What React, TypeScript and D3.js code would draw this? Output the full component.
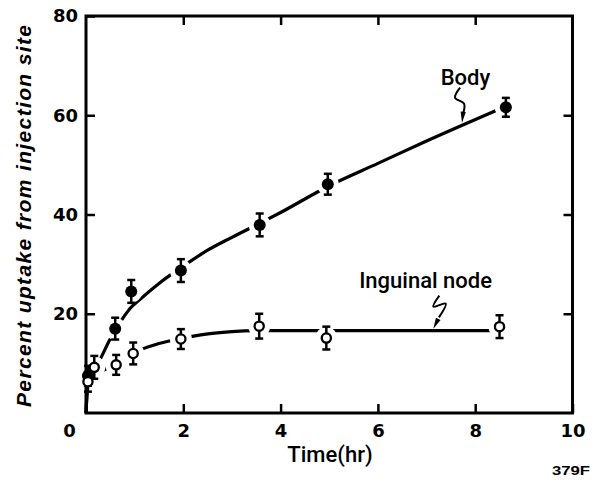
import React, { useEffect, useRef } from 'react';
import * as d3 from 'd3';

// measured points (time in hr, percent uptake)
const bodyTime = [0.04, 0.6, 0.93, 1.95, 3.57, 4.97, 8.63];
const bodyUptake = [7.5, 17.0, 24.5, 28.7, 37.9, 46.1, 61.6];
const bodyErr = [2.0, 2.2, 2.3, 2.3, 2.3, 2.1, 1.9];

const nodeTime = [0.04, 0.17, 0.62, 0.97, 1.95, 3.56, 4.94, 8.5];
const nodeUptake = [6.3, 9.2, 9.7, 12.0, 14.9, 17.5, 15.1, 17.4];
const nodeErr = [2.0, 2.3, 2.0, 2.2, 2.0, 2.5, 2.3, 2.3];

// hand-drawn fitted curves
const bodyFitTime = [0, 0.04, 0.15, 0.3, 0.48, 0.6, 0.75, 0.9, 1.1, 1.5, 2, 2.5, 3, 3.57, 4, 5, 6, 7, 8.42];
const bodyFit = [0, 6.5, 8.5, 11, 14.6, 16.8, 19, 21, 22.8, 26.1, 29.6, 32.8, 35.4, 38.2, 40.4, 45.8, 50.3, 54.8, 60.9];

const nodeFitTime = [0, 0.04, 0.17, 0.36, 0.62, 0.87, 1.11, 1.5, 2, 2.55, 3, 3.56, 8.35];
const nodeFit = [0, 5.8, 7.8, 8.6, 10.2, 11.6, 12.7, 14, 15.1, 16.0, 16.4, 16.6, 16.6];

const xTicks = [0, 2, 4, 6, 8, 10];
const yTicks = [20, 40, 60, 80];

// annotations: label anchor (data units) and squiggle arrow (tip in data units, offsets in px)
const labels = [
    { text: 'Body', t: 7.8, v: 66.1, tip: [7.73, 58.5], squiggle: [[-2, -35], [-7, -25], [2, -19], [0, 0]] },
    { text: 'Inguinal node', t: 6.98, v: 25.1, tip: [7.14, 17.0], squiggle: [[6, -33], [0, -22], [12.4, -25], [0, 0]] },
];

const W = 594;
const H = 481;

const App = () => {
    const ref = useRef<SVGSVGElement>(null);

    useEffect(() => {
        const svg = d3.select(ref.current);
        svg.selectAll('*').remove();

        const x = d3.scaleLinear().domain([0, 10]).range([86, 572.5]);
        const y = d3.scaleLinear().domain([0, 80]).range([413, 16]);

        const line = d3.line<[number, number]>()
            .x(d => x(d[0]))
            .y(d => y(d[1]))
            .curve(d3.curveMonotoneX);

        // fitted curves
        svg.append('path')
            .datum(bodyFitTime.map((t, i) => [t, bodyFit[i]] as [number, number]))
            .attr('fill', 'none').attr('stroke', '#000').attr('stroke-width', 3.2)
            .attr('d', line);
        svg.append('path')
            .datum(nodeFitTime.map((t, i) => [t, nodeFit[i]] as [number, number]))
            .attr('fill', 'none').attr('stroke', '#000').attr('stroke-width', 3.2)
            .attr('d', line);

        // gaps in the curves around each point
        const all = [
            ...bodyTime.map((t, i) => ({ t, v: bodyUptake[i], e: bodyErr[i], open: false })),
            ...nodeTime.map((t, i) => ({ t, v: nodeUptake[i], e: nodeErr[i], open: true })),
        ];
        svg.append('g').selectAll('circle')
            .data(all).enter().append('circle')
            .attr('cx', d => x(d.t)).attr('cy', d => y(d.v))
            .attr('r', 11).attr('fill', '#fff');

        // frame + ticks
        svg.append('rect')
            .attr('x', x(0)).attr('y', y(80))
            .attr('width', x(10) - x(0)).attr('height', y(0) - y(80))
            .attr('fill', 'none').attr('stroke', '#000').attr('stroke-width', 3);

        const bottom = svg.append('g')
            .attr('transform', `translate(0,${y(0)})`)
            .call(d3.axisBottom(x).tickValues(xTicks).tickSize(-9).tickPadding(11).tickFormat(d3.format('d')));
        const left = svg.append('g')
            .attr('transform', `translate(${x(0)},0)`)
            .call(d3.axisLeft(y).tickValues(yTicks).tickSize(-9).tickPadding(8));
        const top = svg.append('g')
            .attr('transform', `translate(0,${y(80)})`)
            .call(d3.axisTop(x).tickValues([2, 4, 6, 8]).tickSize(-9).tickFormat(() => ''));
        const right = svg.append('g')
            .attr('transform', `translate(${x(10)},0)`)
            .call(d3.axisRight(y).tickValues([20, 40, 60]).tickSize(-9).tickFormat(() => ''));

        [bottom, left, top, right].forEach(g => {
            g.select('.domain').remove();
            g.selectAll('.tick line').attr('stroke', '#000').attr('stroke-width', 2.5);
            g.selectAll('.tick text')
                .attr('fill', '#000')
                .attr('font-family', 'DejaVu Sans')
                .attr('font-weight', 'bold')
                .attr('font-size', 18);
        });
        bottom.selectAll('.tick text').filter((d: any) => d === 0).attr('dx', -17);

        // error bars
        const err = svg.append('g').attr('stroke', '#000').attr('stroke-width', 2.5);
        err.selectAll('line.v').data(all).enter().append('line')
            .attr('x1', d => x(d.t)).attr('x2', d => x(d.t))
            .attr('y1', d => y(d.v - d.e)).attr('y2', d => y(d.v + d.e));
        err.selectAll('line.lo').data(all).enter().append('line')
            .attr('x1', d => x(d.t) - 4).attr('x2', d => x(d.t) + 4)
            .attr('y1', d => y(d.v - d.e)).attr('y2', d => y(d.v - d.e));
        err.selectAll('line.hi').data(all).enter().append('line')
            .attr('x1', d => x(d.t) - 4).attr('x2', d => x(d.t) + 4)
            .attr('y1', d => y(d.v + d.e)).attr('y2', d => y(d.v + d.e));

        // markers
        svg.append('g').selectAll('circle')
            .data(all).enter().append('circle')
            .attr('cx', d => x(d.t)).attr('cy', d => y(d.v))
            .attr('r', d => d.open ? 4.6 : 6)
            .attr('fill', d => d.open ? '#fff' : '#000')
            .attr('stroke', '#000')
            .attr('stroke-width', d => d.open ? 2.3 : 0);

        // labels with squiggly arrows
        labels.forEach(l => {
            svg.append('text')
                .attr('x', x(l.t)).attr('y', y(l.v))
                .attr('text-anchor', 'middle')
                .attr('font-family', 'Roboto').attr('font-weight', 500)
                .attr('font-size', 22)
                .text(l.text);
            const tx = x(l.tip[0]);
            const ty = y(l.tip[1]);
            const pts = l.squiggle.map(p => [tx + p[0], ty + p[1]] as [number, number]);
            svg.append('path')
                .attr('d', d3.line().curve(d3.curveCatmullRom)(pts.slice(0, 3).concat([[tx + (pts[2][0] - tx) * 0.45, ty + (pts[2][1] - ty) * 0.45]]))!)
                .attr('fill', 'none').attr('stroke', '#000').attr('stroke-width', 2);
            const [px, py] = pts[2];
            const ang = Math.atan2(ty - py, tx - px);
            const len = 11;
            const bx = tx - Math.cos(ang) * len;
            const by = ty - Math.sin(ang) * len;
            const nx = -Math.sin(ang) * 2.6;
            const ny = Math.cos(ang) * 2.6;
            svg.append('path')
                .attr('d', `M${tx},${ty}L${bx + nx},${by + ny}L${bx - nx},${by - ny}Z`)
                .attr('fill', '#000');
        });

        // axis titles
        svg.append('text')
            .attr('x', 330).attr('y', 461.5)
            .attr('text-anchor', 'middle')
            .attr('font-family', 'Roboto').attr('font-weight', 500)
            .attr('font-size', 22)
            .text('Time(hr)');
        svg.append('text')
            .attr('transform', 'translate(31,216) rotate(-90)')
            .attr('text-anchor', 'middle')
            .attr('font-family', 'Liberation Sans').attr('font-weight', 'bold').attr('font-style', 'italic')
            .attr('font-size', 21)
            .attr('textLength', 382).attr('lengthAdjust', 'spacing')
            .text('Percent uptake from injection site');
        svg.append('text')
            .attr('x', 552).attr('y', 475)
            .attr('font-family', 'Liberation Sans').attr('font-weight', 'bold')
            .attr('font-size', 13)
            .attr('textLength', 38).attr('lengthAdjust', 'spacingAndGlyphs')
            .text('379F');
    }, []);

    return (
        <svg ref={ref} width={W} height={H}
            style={{ position: 'absolute', left: 0, top: 0, background: '#fff' }} />
    );
};

export default App;
